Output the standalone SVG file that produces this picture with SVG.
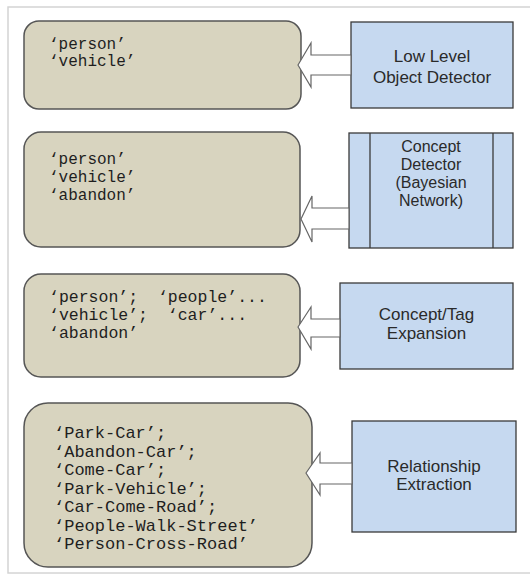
<svg xmlns="http://www.w3.org/2000/svg" width="530" height="577" viewBox="0 0 530 577">
<style>
.bg{fill:#ffffff}
.frame{fill:none;stroke:#d4d4d4;stroke-width:1.5}
.out{fill:#d8d4bf;stroke:#555555;stroke-width:1.5}
.proc{fill:#c6d9f0;stroke:#3a3a3a;stroke-width:1.3}
.arrow{fill:#ffffff;stroke:#666666;stroke-width:1.2;stroke-linejoin:miter}
.mono{font-family:"Liberation Mono","Courier New",monospace;fill:#1e1e1e}
.sans{font-family:"Liberation Sans",Arial,sans-serif;font-size:17px;fill:#2a2a2a;text-anchor:middle}
</style>
<rect class="bg" x="0" y="0" width="530" height="577"/>
<rect class="frame" x="8" y="7" width="540" height="566"/>

<g id="out1">
<rect class="out" x="24" y="21" width="277" height="88" rx="15" ry="15"/>
<text class="mono" font-size="16" x="49" y="49">‘person’</text>
<text class="mono" font-size="16" x="49" y="66">‘vehicle’</text>
</g>
<g id="proc1">
<rect class="proc" x="351" y="22" width="162" height="86"/>
<text class="sans" x="432" y="62">Low Level</text>
<text class="sans" x="432" y="83">Object Detector</text>
</g>

<g id="out2">
<rect class="out" x="24" y="132" width="276" height="115" rx="17" ry="17"/>
<text class="mono" font-size="16" x="49" y="164">‘person’</text>
<text class="mono" font-size="16" x="49" y="182">‘vehicle’</text>
<text class="mono" font-size="16" x="49" y="200">‘abandon’</text>
</g>
<g id="proc2">
<rect class="proc" x="349" y="133" width="164" height="115"/>
<line class="proc" x1="370" y1="133" x2="370" y2="248"/>
<line class="proc" x1="493" y1="133" x2="493" y2="248"/>
<text class="sans" font-size="16" style="font-size:16px" x="431" y="152">Concept</text>
<text class="sans" style="font-size:16px" x="431" y="170">Detector</text>
<text class="sans" style="font-size:16px" x="431" y="188">(Bayesian</text>
<text class="sans" style="font-size:16px" x="431" y="206">Network)</text>
</g>

<g id="out3">
<rect class="out" x="24" y="274" width="276" height="103" rx="17" ry="17"/>
<text class="mono" font-size="16.5" x="49" y="302" xml:space="preserve">‘person’;  ‘people’...</text>
<text class="mono" font-size="16.5" x="49" y="320" xml:space="preserve">‘vehicle’;  ‘car’...</text>
<text class="mono" font-size="16.5" x="49" y="338">‘abandon’</text>
</g>
<g id="proc3">
<rect class="proc" x="340" y="283" width="173" height="86"/>
<text class="sans" x="426.5" y="320">Concept/Tag</text>
<text class="sans" x="426.5" y="339">Expansion</text>
</g>

<g id="out4">
<rect class="out" x="24" y="403" width="288" height="164" rx="24" ry="24"/>
<text class="mono" font-size="17" x="54" y="438">‘Park-Car’;</text>
<text class="mono" font-size="17" x="54" y="457">‘Abandon-Car’;</text>
<text class="mono" font-size="17" x="54" y="475">‘Come-Car’;</text>
<text class="mono" font-size="17" x="54" y="494">‘Park-Vehicle’;</text>
<text class="mono" font-size="17" x="54" y="512">‘Car-Come-Road’;</text>
<text class="mono" font-size="17" x="54" y="531">‘People-Walk-Street’</text>
<text class="mono" font-size="17" x="54" y="549">‘Person-Cross-Road’</text>
</g>
<g id="proc4">
<rect class="proc" x="352" y="421" width="164" height="111"/>
<text class="sans" x="434" y="472">Relationship</text>
<text class="sans" x="434" y="490">Extraction</text>
</g>

<g id="connectors">
<polygon class="arrow" points="298,65 311,43 311,55 351,55 351,75 311,75 311,87"/>
<polygon class="arrow" points="301,219 312,196 312,208 349,208 349,229 312,229 312,242"/>
<polygon class="arrow" points="298,327 311,307 311,319 340,319 340,337 311,337 311,349"/>
<polygon class="arrow" points="306,473 320,453 320,463 352,463 352,484 320,484 320,495"/>
</g>
</svg>
